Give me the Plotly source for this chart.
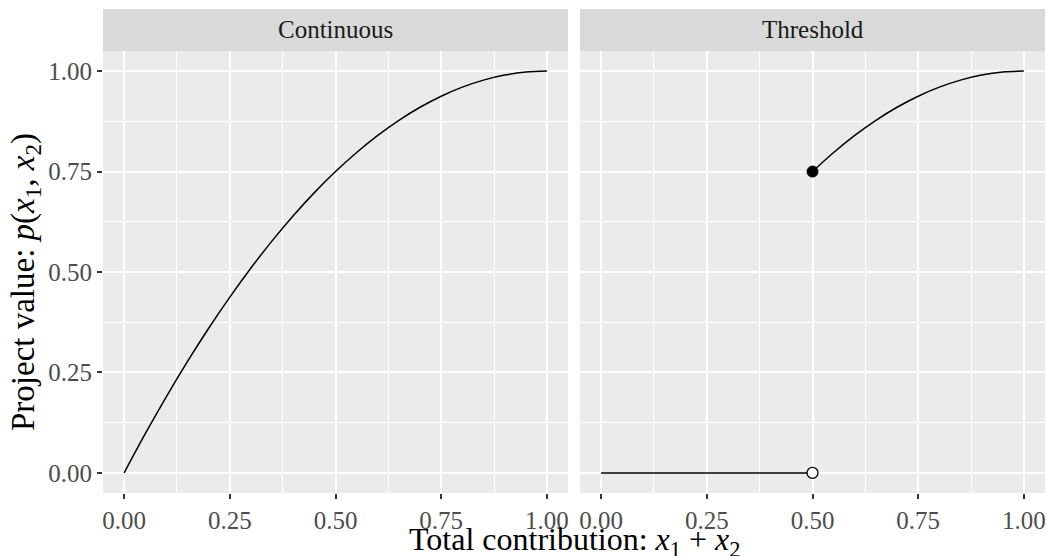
import plotly.graph_objects as go

# Values
x_cont = [0.0, 0.05, 0.10, 0.15, 0.20, 0.25, 0.30, 0.35, 0.40, 0.45, 0.50,
          0.55, 0.60, 0.65, 0.70, 0.75, 0.80, 0.85, 0.90, 0.95, 1.0]
y_cont = [0.0, 0.0975, 0.19, 0.2775, 0.36, 0.4375, 0.51, 0.5775, 0.64, 0.6975, 0.75,
          0.7975, 0.84, 0.8775, 0.91, 0.9375, 0.96, 0.9775, 0.99, 0.9975, 1.0]

x_low = [0.0, 0.5]
y_low = [0.0, 0.0]
x_high = [0.50, 0.55, 0.60, 0.65, 0.70, 0.75, 0.80, 0.85, 0.90, 0.95, 1.0]
y_high = [0.75, 0.7975, 0.84, 0.8775, 0.91, 0.9375, 0.96, 0.9775, 0.99, 0.9975, 1.0]
open_pt_x = [0.5]
open_pt_y = [0.0]
closed_pt_x = [0.5]
closed_pt_y = [0.75]

panel_titles = ["Continuous", "Threshold"]
tick_vals = [0.0, 0.25, 0.5, 0.75, 1.0]
tick_text = ["0.00", "0.25", "0.50", "0.75", "1.00"]
minor_vals = [0.125, 0.375, 0.625, 0.875]

W, H = 1047, 556
ml, mr, mt, mb = 103, 2, 51, 63
pw = W - ml - mr
ph = H - mt - mb
panel_w = 465
gap = 12

FONT = "Liberation Serif"

fig = go.Figure()
line_style = dict(color="black", width=1.5)
fig.add_trace(go.Scatter(x=x_cont, y=y_cont, mode="lines", line=line_style,
                         line_shape="spline", xaxis="x", yaxis="y", showlegend=False))
fig.add_trace(go.Scatter(x=x_low, y=y_low, mode="lines", line=line_style,
                         xaxis="x2", yaxis="y2", showlegend=False))
fig.add_trace(go.Scatter(x=x_high, y=y_high, mode="lines", line=line_style,
                         line_shape="spline", xaxis="x2", yaxis="y2", showlegend=False))
fig.add_trace(go.Scatter(x=open_pt_x, y=open_pt_y, mode="markers",
                         marker=dict(size=11, color="white", line=dict(color="black", width=1.3)),
                         xaxis="x2", yaxis="y2", showlegend=False))
fig.add_trace(go.Scatter(x=closed_pt_x, y=closed_pt_y, mode="markers",
                         marker=dict(size=11, color="black", line=dict(color="black", width=1)),
                         xaxis="x2", yaxis="y2", showlegend=False))

d1 = [0, panel_w / pw]
d2 = [(panel_w + gap) / pw, 1]

common = dict(
    range=[-0.05, 1.05], tickmode="array", tickvals=tick_vals, ticktext=tick_text,
    showgrid=True, gridcolor="white", gridwidth=2, zeroline=False,
    ticks="outside", ticklen=5, tickwidth=1.5, tickcolor="#333333",
    tickfont=dict(family=FONT, size=25, color="#4D4D4D"),
    showline=False, fixedrange=True,
    minor=dict(tickmode="array", tickvals=minor_vals, showgrid=True,
               gridcolor="white", gridwidth=1, ticks=""),
)

fig.update_layout(
    width=W, height=H,
    margin=dict(l=ml, r=mr, t=mt, b=mb),
    paper_bgcolor="white", plot_bgcolor="#EBEBEB",
    font=dict(family=FONT),
    xaxis=dict(common, domain=d1, anchor="y"),
    xaxis2=dict(common, domain=d2, anchor="y2"),
    yaxis=dict(common, domain=[0, 1], anchor="x"),
    yaxis2=dict(common, domain=[0, 1], anchor="x2", showticklabels=False, ticks=""),
)

strip_h = 42 / ph
shapes = []
annotations = []
for d, t in zip([d1, d2], panel_titles):
    shapes.append(dict(type="rect", xref="paper", yref="paper", x0=d[0], x1=d[1],
                       y0=1, y1=1 + strip_h, fillcolor="#D9D9D9", line=dict(width=0),
                       layer="below"))
    annotations.append(dict(text=t, xref="paper", yref="paper", x=(d[0] + d[1]) / 2,
                            y=1 + strip_h / 2, showarrow=False, xanchor="center", yanchor="middle",
                            font=dict(family=FONT, size=25, color="#1A1A1A")))

annotations.append(dict(
    text="Total contribution: <i>x</i><sub>1</sub> + <i>x</i><sub>2</sub>",
    xref="paper", yref="paper", x=(574 - ml) / pw, y=-(541 - (mt + ph)) / ph, showarrow=False,
    xanchor="center", yanchor="middle", font=dict(family=FONT, size=32, color="black")))
annotations.append(dict(
    text="Project value: <i>p</i>(<i>x</i><sub>1</sub>, <i>x</i><sub>2</sub>)",
    xref="paper", yref="paper", x=-(ml - 25) / pw, y=(mt + ph - 282) / ph, showarrow=False,
    textangle=-90, xanchor="center", yanchor="middle",
    font=dict(family=FONT, size=33, color="black")))

fig.update_layout(shapes=shapes, annotations=annotations)
fig.write_html("out.html",
               config={"displayModeBar": False},
               post_script="document.body.style.margin='0';document.body.style.padding='0';"
                           "document.body.style.overflow='hidden';")
